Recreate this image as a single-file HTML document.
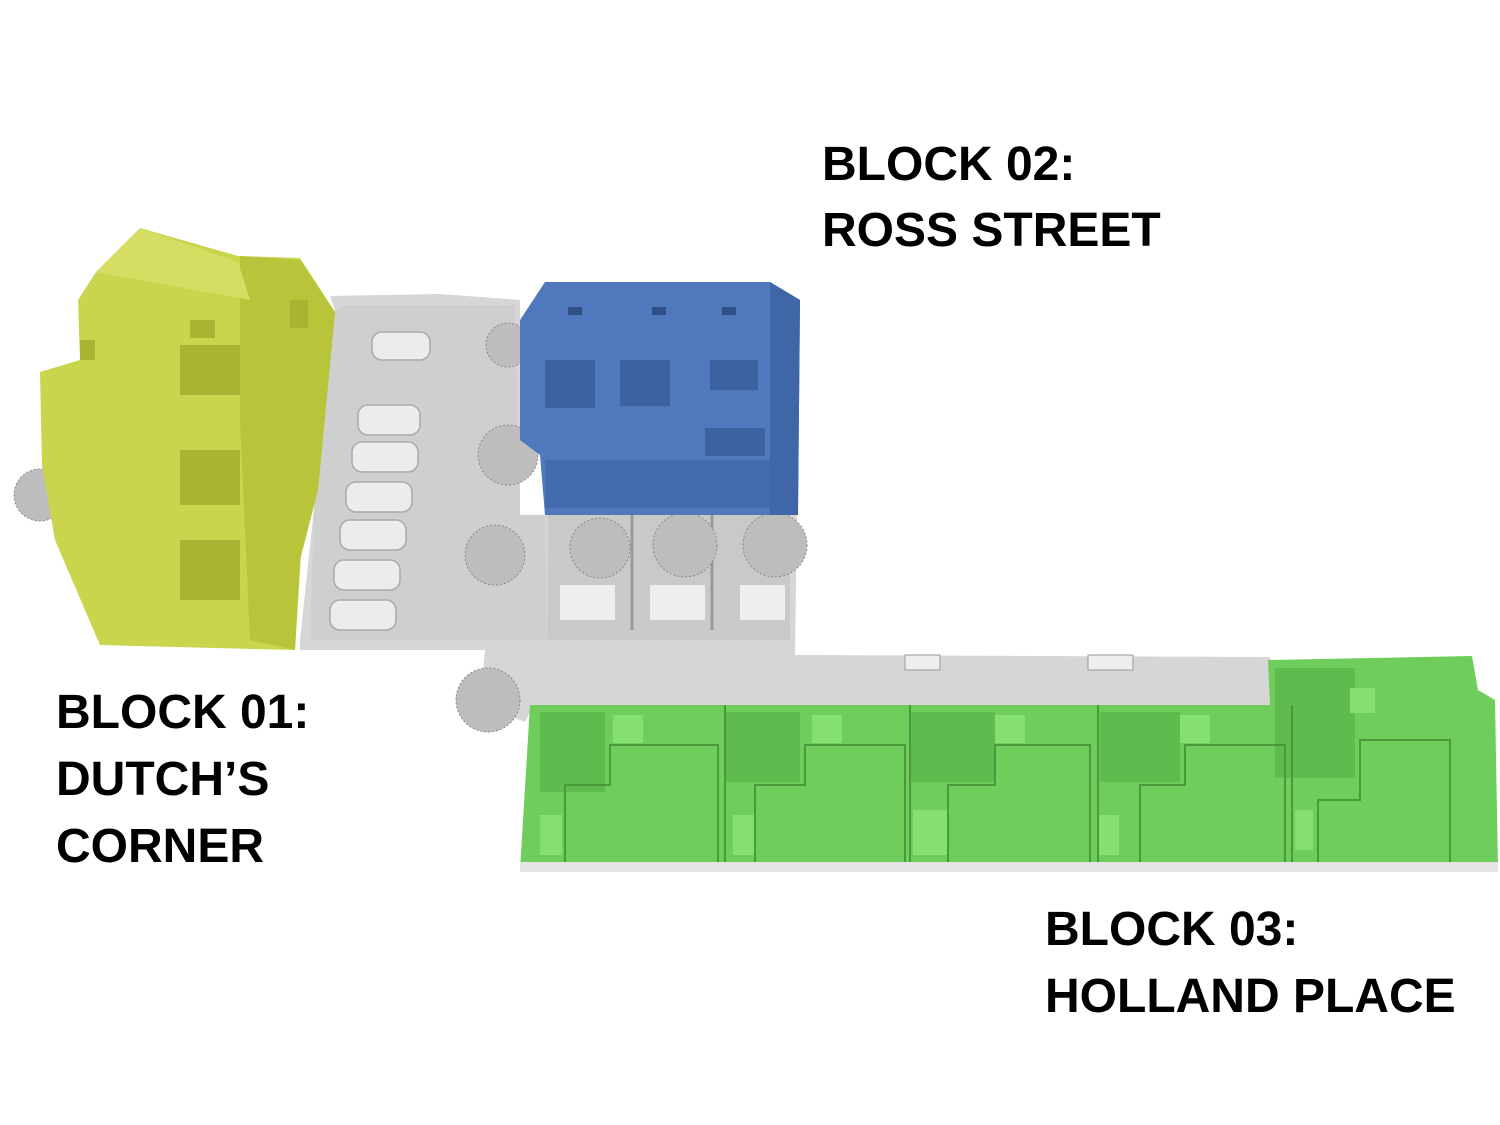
<!DOCTYPE html>
<html><head><meta charset="utf-8"><style>
html,body{margin:0;padding:0;background:#fff;width:1500px;height:1125px;overflow:hidden}
svg{position:absolute;left:0;top:0}
.t{font-family:"Liberation Sans",sans-serif;font-weight:bold;font-size:48px;fill:#000}
</style></head><body>
<svg width="1500" height="1125" viewBox="0 0 1500 1125">
<!-- ground -->
<polygon points="330,296 440,294 520,300 520,515 790,515 790,300 800,300 795,655 1270,657 1280,700 1275,712 530,712 525,722 480,705 485,650 300,650 300,640 335,310" fill="#d6d6d6"/>
<polygon points="345,305 515,305 520,515 545,515 548,640 310,640 320,320" fill="#cfcfcf"/>
<polygon points="548,515 790,515 790,640 548,640" fill="#c9c9c9"/>
<rect x="560" y="585" width="55" height="35" fill="#eee"/>
<rect x="650" y="585" width="55" height="35" fill="#eee"/>
<rect x="740" y="585" width="45" height="35" fill="#eee"/>
<line x1="632" y1="515" x2="632" y2="630" stroke="#999" stroke-width="3"/>
<line x1="712" y1="515" x2="712" y2="630" stroke="#999" stroke-width="3"/>
<rect x="905" y="655" width="35" height="15" fill="#eee" stroke="#999"/>
<rect x="1088" y="655" width="45" height="15" fill="#eee" stroke="#999"/>
<!-- cars -->
<g fill="#ececec" stroke="#aaa" stroke-width="1.5">
<rect x="372" y="332" width="58" height="28" rx="10"/>
<rect x="358" y="405" width="62" height="30" rx="10"/>
<rect x="352" y="442" width="66" height="30" rx="10"/>
<rect x="346" y="482" width="66" height="30" rx="10"/>
<rect x="340" y="520" width="66" height="30" rx="10"/>
<rect x="334" y="560" width="66" height="30" rx="10"/>
<rect x="330" y="600" width="66" height="30" rx="10"/>
</g>
<!-- trees -->
<g fill="#bdbdbd" stroke="#888" stroke-width="1" stroke-dasharray="2 2">
<circle cx="508" cy="345" r="22"/>
<circle cx="508" cy="455" r="30"/>
<circle cx="495" cy="555" r="30"/>
<circle cx="488" cy="700" r="32"/>
<circle cx="600" cy="548" r="30"/>
<circle cx="685" cy="545" r="32"/>
<circle cx="775" cy="545" r="32"/>
<circle cx="40" cy="495" r="26"/>
</g>
<!-- block 01 yellow -->
<polygon points="140,228 238,256 300,258 335,312 318,490 302,540 295,650 100,645 55,540 42,465 40,372 80,360 78,300 96,272" fill="#c9d54c"/>
<polygon points="240,256 300,260 335,312 318,490 300,560 295,650 250,640 240,420" fill="#b8c43a"/>
<polygon points="140,228 238,262 250,300 140,280 96,272" fill="#d4de63"/>
<g fill="#a9b532">
<rect x="190" y="320" width="25" height="18"/><rect x="180" y="345" width="60" height="50"/>
<rect x="180" y="450" width="60" height="55"/><rect x="180" y="540" width="60" height="60"/>
<rect x="80" y="340" width="15" height="20"/><rect x="290" y="300" width="18" height="28"/>
</g>
<!-- block 02 blue -->
<polygon points="545,282 770,282 800,300 798,515 545,515 540,455 520,440 520,320" fill="#5079bd"/>
<polygon points="770,282 800,300 798,515 770,515" fill="#3f67a8"/>
<g fill="#3c62a2">
<rect x="545" y="360" width="50" height="48"/><rect x="620" y="360" width="50" height="46"/>
<rect x="710" y="360" width="48" height="30"/><rect x="705" y="428" width="60" height="28"/>
<rect x="545" y="460" width="225" height="48" opacity=".6"/>
</g>
<g fill="#2f4f86"><rect x="568" y="307" width="14" height="8"/><rect x="652" y="307" width="14" height="8"/><rect x="722" y="307" width="14" height="8"/></g>
<!-- block 03 green -->
<polygon points="530,705 1270,705 1268,660 1472,656 1478,690 1495,700 1498,870 520,870" fill="#6fcd5c"/>
<g fill="#5fbb4e">
<rect x="540" y="712" width="65" height="80"/><rect x="725" y="712" width="75" height="70"/>
<rect x="910" y="712" width="85" height="70"/><rect x="1100" y="712" width="80" height="70"/>
<rect x="1275" y="668" width="80" height="110"/>
</g>
<g fill="#86e06f">
<rect x="613" y="715" width="30" height="28"/><rect x="812" y="715" width="30" height="28"/>
<rect x="995" y="715" width="30" height="28"/><rect x="1180" y="715" width="30" height="28"/>
<rect x="540" y="815" width="22" height="40"/><rect x="733" y="815" width="22" height="40"/>
<rect x="913" y="810" width="35" height="45"/><rect x="1097" y="815" width="22" height="40"/>
<rect x="1295" y="810" width="18" height="40"/><rect x="1350" y="688" width="25" height="25"/>
</g>
<g stroke="#4a9a3c" stroke-width="2" fill="none">
<polyline points="565,862 565,785 610,785 610,745 718,745 718,862"/>
<polyline points="755,862 755,785 805,785 805,745 905,745 905,862"/>
<polyline points="948,862 948,785 995,785 995,745 1090,745 1090,862"/>
<polyline points="1140,862 1140,785 1185,785 1185,745 1285,745 1285,862"/>
<polyline points="1318,862 1318,800 1360,800 1360,740 1450,740 1450,862"/>
<line x1="725" y1="705" x2="725" y2="862"/><line x1="910" y1="705" x2="910" y2="862"/>
<line x1="1098" y1="705" x2="1098" y2="862"/><line x1="1292" y1="705" x2="1292" y2="862"/>
</g>
<rect x="520" y="862" width="978" height="10" fill="#e4e4e4"/>
<!-- labels -->
<text class="t" x="822" y="180">BLOCK 02:</text>
<text class="t" x="822" y="246">ROSS STREET</text>
<text class="t" x="56" y="728">BLOCK 01:</text>
<text class="t" x="56" y="795">DUTCH’S</text>
<text class="t" x="56" y="862">CORNER</text>
<text class="t" x="1045" y="945">BLOCK 03:</text>
<text class="t" x="1045" y="1012">HOLLAND PLACE</text>
</svg>
</body></html>
